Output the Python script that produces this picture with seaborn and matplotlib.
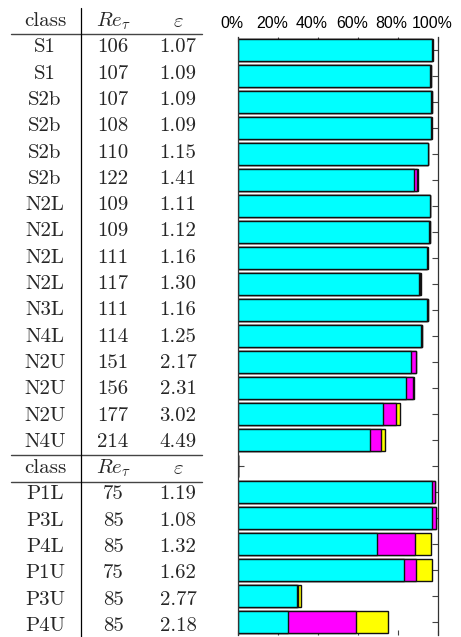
import matplotlib
matplotlib.use("Agg")
import matplotlib.pyplot as plt
import matplotlib.transforms as mtransforms
import seaborn as sns
import pandas as pd
import numpy as np

# ---------------- data ----------------
classes_a = ["S1", "S1", "S2b", "S2b", "S2b", "S2b", "N2L", "N2L", "N2L", "N2L",
             "N3L", "N4L", "N2U", "N2U", "N2U", "N4U"]
re_a = [106, 107, 107, 108, 110, 122, 109, 109, 111, 117, 111, 114, 151, 156, 177, 214]
eps_a = ["1.07", "1.09", "1.09", "1.09", "1.15", "1.41", "1.11", "1.12", "1.16", "1.30",
         "1.16", "1.25", "2.17", "2.31", "3.02", "4.49"]
cyan_a = [97.0, 96.15, 96.85, 96.5, 95.0, 88.15, 96.0, 95.85, 94.65, 90.65, 94.85, 91.65,
          86.5, 84.3, 72.4, 66.0]
mag_a = [0.25, 0.3, 0.2, 0.25, 0.2, 1.65, 0.2, 0.15, 0.15, 0.6, 0.15, 0.3,
         2.4, 3.4, 6.6, 5.8]
yel_a = [0.2, 0.2, 0.15, 0.2, 0.15, 0.5, 0.15, 0.15, 0.15, 0.4, 0.1, 0.2,
         0.3, 0.2, 1.9, 1.8]

classes_b = ["P1L", "P3L", "P4L", "P1U", "P3U", "P4U"]
re_b = [75, 85, 85, 75, 85, 85]
eps_b = ["1.19", "1.08", "1.32", "1.62", "2.77", "2.18"]
cyan_b = [97.0, 97.0, 69.5, 83.3, 29.65, 25.2]
mag_b = [1.65, 2.15, 19.2, 5.7, 0.65, 34.0]
yel_b = [0.15, 0.0, 8.0, 8.0, 1.5, 15.8]

xticks = [0, 20, 40, 60, 80, 100]
xtick_labels = ["0%", "20%", "40%", "60%", "80%", "100%"]
header = ["class", r"$Re_\tau$", r"$\varepsilon$"]

# ---------------- build frame ----------------
cyan = cyan_a + [0.0] + cyan_b
mag = mag_a + [0.0] + mag_b
yel = yel_a + [0.0] + yel_b
n = len(cyan)
rows = [f"r{i:02d}" for i in range(n)]
df = pd.DataFrame({"row": rows, "cyan": cyan, "mag": mag, "yel": yel})
df["cm"] = df["cyan"] + df["mag"]
df["cmy"] = df["cm"] + df["yel"]

sns.set_theme(style="white")
plt.rcParams["mathtext.fontset"] = "cm"
plt.rcParams["axes.formatter.use_mathtext"] = True

W, H = 461, 637
fig = plt.figure(figsize=(W / 100, H / 100), dpi=100)
ax_left = 237.7 / W
ax_w = 200 / W
ax_bot = 2 / H
ax_h = 598 / H
ax = fig.add_axes([ax_left, ax_bot, ax_w, ax_h])

bar_kw = dict(orient="h", order=rows, width=0.82, saturation=1,
              edgecolor="#111111", linewidth=1.0, ax=ax)
sns.barplot(data=df, x="cmy", y="row", color="#FFFF00", **bar_kw)
sns.barplot(data=df, x="cm", y="row", color="#FF00FF", **bar_kw)
sns.barplot(data=df, x="cyan", y="row", color="#00FFFF", **bar_kw)

ax.set_xlim(0, 100)
ax.set_ylim(n - 0.5, -0.5)
ax.set_xlabel("")
ax.set_ylabel("")
ax.set_xticks(xticks)
ax.set_xticklabels(xtick_labels, fontsize=11.4, family="Liberation Sans", color="black")
ax.xaxis.set_ticks_position("both")
ax.tick_params(axis="x", which="major", direction="in", length=3.5, width=0.8,
               color="#444444", top=True, bottom=True, labeltop=True, labelbottom=False, pad=4.5)
shift = mtransforms.ScaledTranslation(-3 / 100, 0, fig.dpi_scale_trans)
for lbl in ax.get_xticklabels(which="major"):
    lbl.set_transform(lbl.get_transform() + shift)
for t in ax.xaxis.get_major_ticks():
    t.label2.set_transform(t.label2.get_transform() + shift)
ax.set_yticks(range(n))
ax.set_yticklabels([])
ax.tick_params(axis="y", which="major", direction="in", length=4.5, width=0.8,
               color="#444444", left=True, right=True, labelleft=False)
for s in ["top", "bottom"]:
    ax.spines[s].set_visible(False)
for s in ["left", "right"]:
    ax.spines[s].set_visible(True)
    ax.spines[s].set_color("#333333")
    ax.spines[s].set_linewidth(0.9)

# ---------------- table ----------------
tax = fig.add_axes([0, ax_bot, ax_left, ax_h])
tax.set_xlim(0, 237.7)
tax.set_ylim(n - 0.5, -0.5)
tax.axis("off")

col_x = [45, 113, 178]
fs = 15

def ty(i):
    return i * 1.0115 - 0.1

def put_row(i, vals):
    for x, v in zip(col_x, vals):
        if v.startswith("$"):
            tax.text(x, ty(i), v, ha="center", va="center", fontsize=fs, clip_on=False)
        else:
            tax.text(x, ty(i), v, ha="center", va="center", fontsize=fs,
                     family="cmr10", clip_on=False)

put_row(-1, header)
for i, (c, r, e) in enumerate(zip(classes_a, re_a, eps_a)):
    put_row(i, [c, str(r), e])
put_row(len(classes_a), header)
off = len(classes_a) + 1
for i, (c, r, e) in enumerate(zip(classes_b, re_b, eps_b)):
    put_row(off + i, [c, str(r), e])

line_kw = dict(color="#444444", linewidth=1.0, clip_on=False)
tax.plot([11, 202], [-0.615, -0.615], **line_kw)
tax.plot([11, 202], [15.58, 15.58], **line_kw)
tax.plot([11, 202], [16.62, 16.62], **line_kw)
tax.plot([81, 81], [-1.62, n - 0.4], color="black", linewidth=0.9, clip_on=False)

fig.savefig("out.png", dpi=100)
